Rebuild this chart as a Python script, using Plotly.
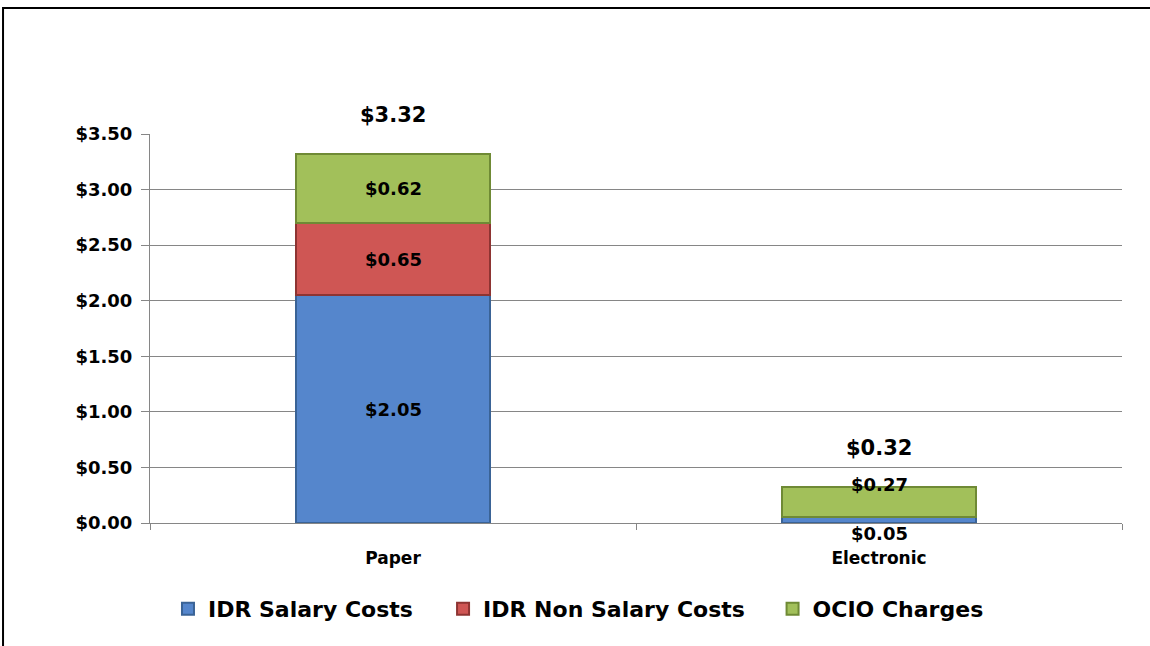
import plotly.graph_objects as go

categories = ["Paper", "Electronic"]
series_names = ["IDR Salary Costs", "IDR Non Salary Costs", "OCIO Charges"]
salary = [2.05, 0.05]
non_salary = [0.65, 0.0]
ocio = [0.62, 0.27]
totals = [3.32, 0.32]
y_ticks = [0, 0.5, 1.0, 1.5, 2.0, 2.5, 3.0, 3.5]
y_tick_labels = ["$0.00", "$0.50", "$1.00", "$1.50", "$2.00", "$2.50", "$3.00", "$3.50"]

colors = ["#5586CC", "#CF5654", "#A2C05A"]
edge = ["#3A6396", "#8E3432", "#6F8A35"]
font_family = "'DejaVu Sans', sans-serif"
legend_ids = ["legend", "legend2", "legend3"]
legend_x = [0.0185, 0.3015, 0.6405]

fig = go.Figure()
all_series = [salary, non_salary, ocio]
for name, vals, c, e, lg in zip(series_names, all_series, colors, edge, legend_ids):
    fig.add_trace(go.Bar(
        x=categories, y=vals, name=name, legend=lg,
        marker=dict(color=c, line=dict(color=e, width=2)),
        width=0.4, hoverinfo="skip",
    ))

annotations = []
label_shift = {("Electronic", 0): -13, ("Electronic", 2): 18}
for ci, cat in enumerate(categories):
    base = 0
    for si, vals in enumerate(all_series):
        v = vals[ci]
        if v > 0:
            annotations.append(dict(
                x=cat, y=base + v / 2, text=f"${v:.2f}", showarrow=False,
                yshift=label_shift.get((cat, si), 0),
                font=dict(family=font_family, size=18, color="black", weight="bold"),
            ))
        base += v
    annotations.append(dict(
        x=cat, y=totals[ci], text=f"${totals[ci]:.2f}", showarrow=False,
        yanchor="bottom", yshift=25,
        font=dict(family=font_family, size=21, color="black", weight="bold"),
    ))

legend_style = dict(orientation="h", y=-0.221, yanchor="middle", xanchor="left",
                    font=dict(size=22, family=font_family, weight="bold", color="black"),
                    bgcolor="rgba(0,0,0,0)")
layout_legends = {lg: dict(x=lx, **legend_style) for lg, lx in zip(legend_ids, legend_x)}

fig.update_layout(
    barmode="stack",
    width=1150, height=646,
    margin=dict(l=150, r=28, t=134, b=123),
    paper_bgcolor="white", plot_bgcolor="white",
    font=dict(family=font_family, color="black"),
    showlegend=True,
    annotations=annotations,
    shapes=[dict(type="rect", xref="paper", yref="paper",
                 x0=-0.1512, x1=1.2, y0=-0.6, y1=1.3239,
                 line=dict(color="black", width=2), layer="below")],
    **layout_legends,
)
fig.update_xaxes(
    showline=True, linecolor="#868686", linewidth=1,
    ticks="outside", tickson="boundaries", ticklen=6, tickcolor="#868686",
    tickfont=dict(size=17, family=font_family, weight="bold"),
    ticklabelstandoff=20,
    showgrid=False,
)
fig.update_yaxes(
    range=[0, 3.5], tickvals=y_ticks, ticktext=y_tick_labels,
    showline=True, linecolor="#868686", linewidth=1,
    ticks="outside", ticklen=8, tickcolor="#868686",
    showgrid=True, gridcolor="#868686", gridwidth=1,
    tickfont=dict(size=18, family=font_family, weight="bold"),
    ticklabelstandoff=5,
    zeroline=False,
)

fig.write_html(
    "out.html",
    config={"displayModeBar": False},
    post_script="document.body.style.margin='0';document.body.style.overflow='hidden';",
)
